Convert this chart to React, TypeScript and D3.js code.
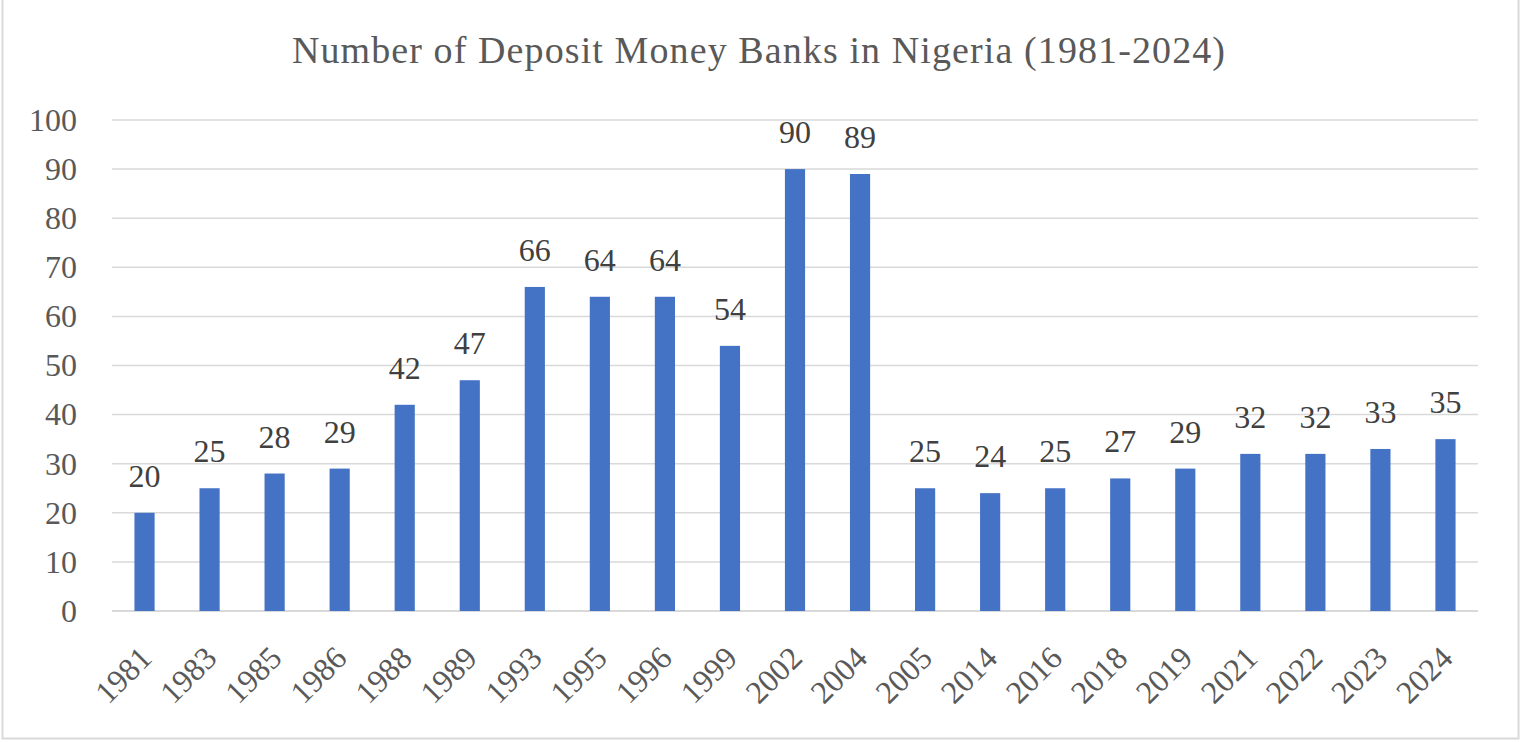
import React from 'react';
import * as d3 from 'd3';

const years = ['1981', '1983', '1985', '1986', '1988', '1989', '1993', '1995', '1996', '1999', '2002', '2004', '2005', '2014', '2016', '2018', '2019', '2021', '2022', '2023', '2024'];
const banks = [20, 25, 28, 29, 42, 47, 66, 64, 64, 54, 90, 89, 25, 24, 25, 27, 29, 32, 32, 33, 35];
const yTicks = [0, 10, 20, 30, 40, 50, 60, 70, 80, 90, 100];

const W = 1521;
const H = 742;
const FONT = '"Liberation Serif", "DejaVu Serif", serif';

const App: React.FC = () => {
  const left = 112, right = 1478, top = 120, bottom = 611;

  const x = d3.scaleBand<string>()
    .domain(years)
    .range([left, right])
    .paddingInner(0.69)
    .paddingOuter(0.345);

  const y = d3.scaleLinear()
    .domain([0, 100])
    .range([bottom, top]);

  return (
    <svg width={W} height={H} style={{ position: 'absolute', left: 0, top: 0 }}>
      <rect x={0} y={0} width={W} height={H} fill="#ffffff" />
      <rect x={2.5} y={-2} width={W - 5} height={H - 1.5} fill="none" stroke="#d9d9d9" strokeWidth={2} />

      <text x={759} y={63} textAnchor="middle" fontFamily={FONT} fontSize={38} letterSpacing={1.1} fill="#595959">
        Number of Deposit Money Banks in Nigeria (1981-2024)
      </text>

      {/* gridlines */}
      {yTicks.map(t => (
        <g key={t}>
          <line x1={left} x2={right} y1={y(t)} y2={y(t)} stroke="#d9d9d9" strokeWidth={t === 0 ? 2 : 1.5} />
          <text x={77} y={y(t)} dy="0.34em" textAnchor="end" fontFamily={FONT} fontSize={32} fill="#595959">
            {t}
          </text>
        </g>
      ))}

      {/* bars */}
      {years.map((yr, i) => (
        <rect key={yr} x={x(yr)} y={y(banks[i])} width={x.bandwidth()} height={bottom - y(banks[i])} fill="#4472c4" />
      ))}

      {/* value labels */}
      {years.map((yr, i) => (
        <text key={yr} x={(x(yr) as number) + x.bandwidth() / 2} y={y(banks[i]) - 26} textAnchor="middle"
          fontFamily={FONT} fontSize={32} fill="#404040">
          {banks[i]}
        </text>
      ))}

      {/* x labels */}
      {years.map(yr => {
        const cx = (x(yr) as number) + x.bandwidth() / 2 + 9;
        const cy = 660;
        return (
          <text key={yr} x={cx} y={cy} textAnchor="end"
            transform={`rotate(-45 ${cx} ${cy})`} fontFamily={FONT} fontSize={32} fill="#595959">
            {yr}
          </text>
        );
      })}
    </svg>
  );
};

export default App;
